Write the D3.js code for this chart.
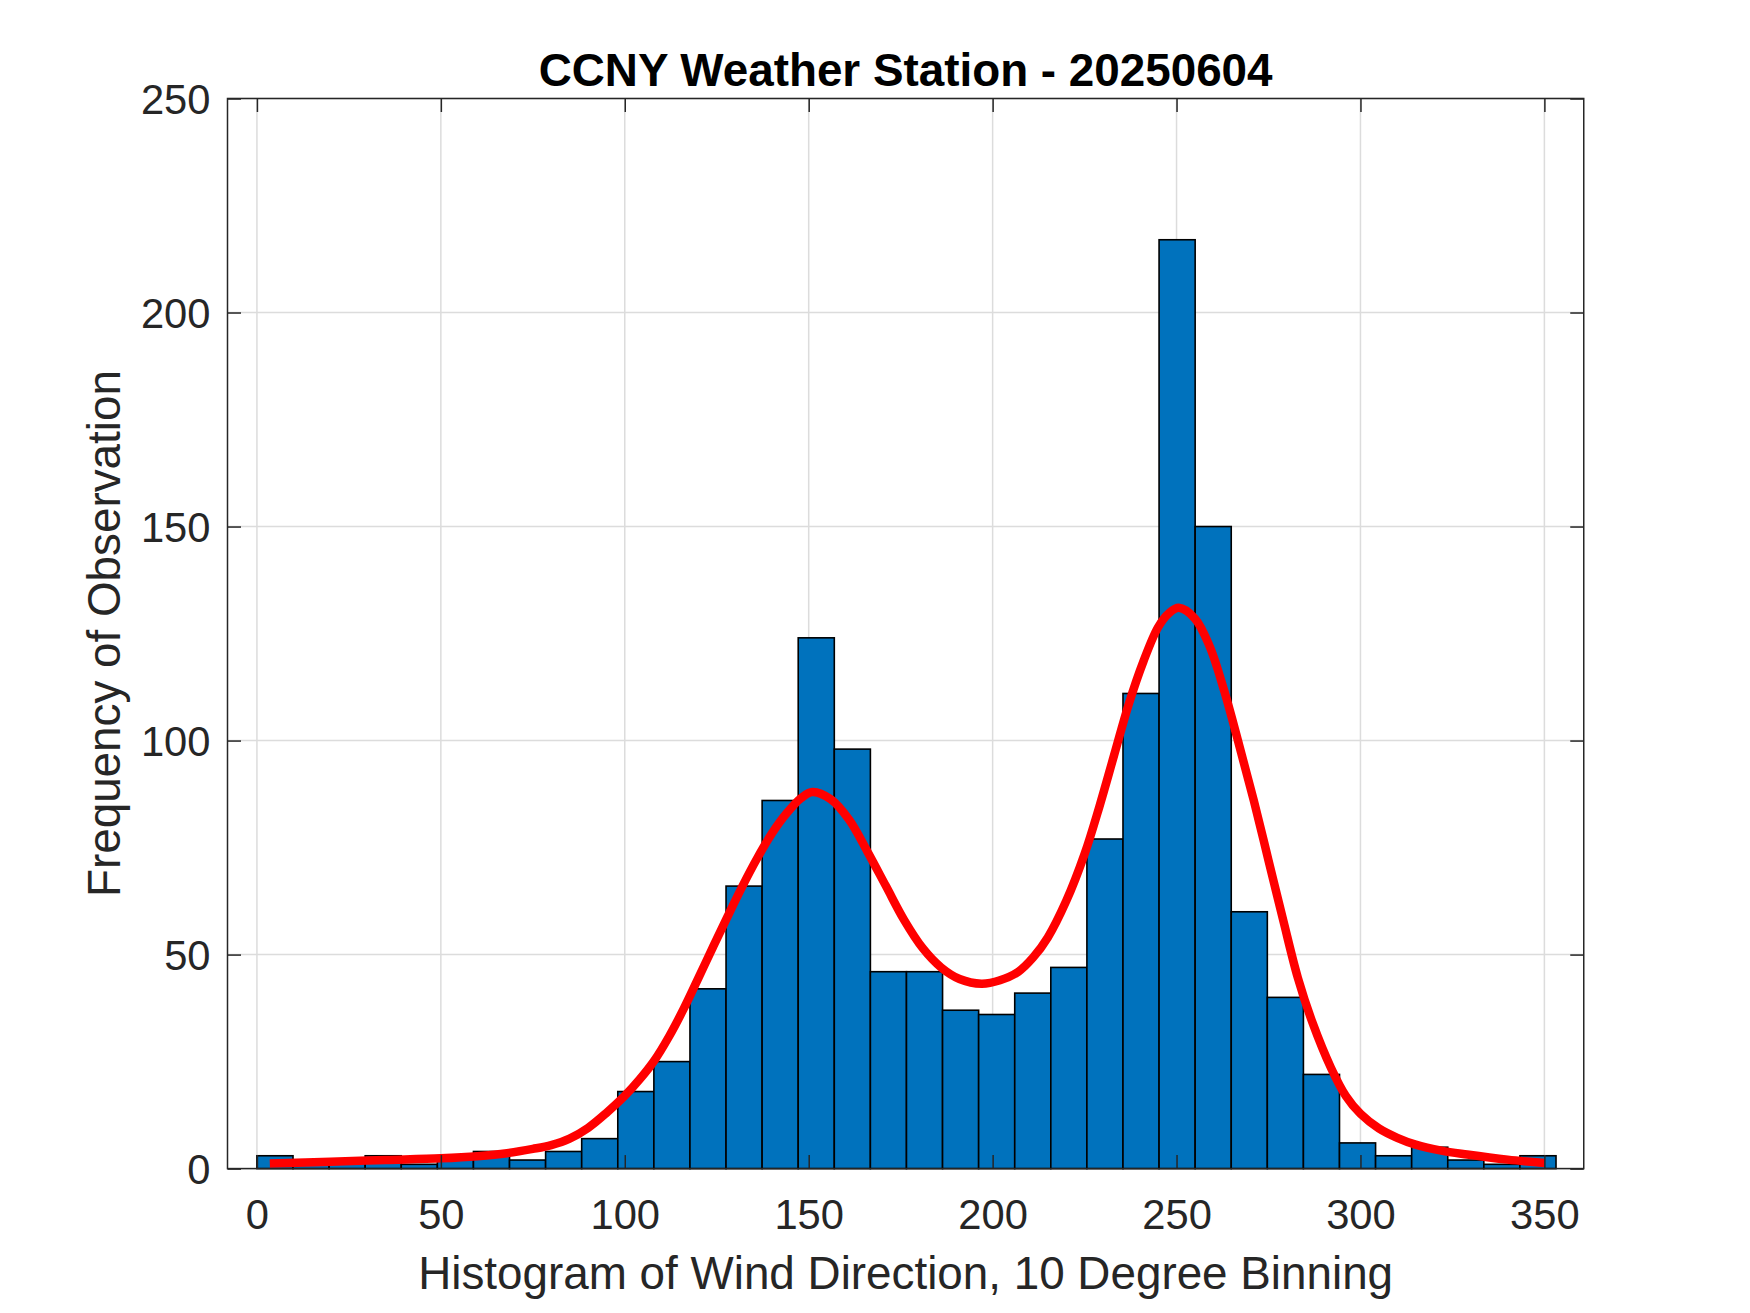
<!DOCTYPE html>
<html>
<head>
<meta charset="utf-8">
<script src="https://cdn.jsdelivr.net/npm/d3@7/dist/d3.min.js"></script>
<style>
  html, body { margin: 0; padding: 0; background: #ffffff; }
  svg { display: block; }
  text { font-family: "Liberation Sans", Arial, Helvetica, sans-serif; }
</style>
</head>
<body>
<svg id="chart" width="1750" height="1313"></svg>
<script>
// ---------------- data ----------------
const titleText = "CCNY Weather Station - 20250604";
const xLabelText = "Histogram of Wind Direction, 10 Degree Binning";
const yLabelText = "Frequency of Observation";

const binStart = 0;
const binWidth = 9.81;
const counts = [3, 1, 2, 3, 1, 3, 4, 2, 4, 7,
                18, 25, 42, 66, 86, 124, 98, 46, 46, 37,
                36, 41, 47, 77, 111, 217, 150, 60, 40, 22,
                6, 3, 5, 2, 1, 3];

// fitted distribution curve
const curveX = [3.5, 20, 35, 50, 60, 68, 75, 80, 85, 90,
                95, 100, 104, 108, 112, 116, 120, 124, 128, 132,
                136, 140, 144, 148, 151, 156, 161, 166, 171, 176,
                181, 186, 191, 197, 202, 207, 211, 215, 220, 225,
                229, 233, 237, 241, 245, 248, 250.6, 255, 259, 263,
                267, 271, 275, 279, 283, 287, 292, 296, 300, 305,
                310, 315, 322, 329, 340, 350];
const curveY = [1.2, 1.6, 2.0, 2.4, 2.9, 3.6, 4.6, 5.5, 7.0, 9.5,
                13.0, 17.0, 20.8, 25.2, 30.8, 37.3, 44.5, 51.8, 59, 66,
                72.5, 78.3, 83, 86.6, 88, 86.3, 81.5, 74, 66, 58,
                51.5, 47, 44.3, 43.2, 44.0, 46.0, 49.3, 54, 62.5, 73.5,
                84.5, 96.5, 108.5, 118.5, 126.5, 129.8, 131, 128.5, 122, 111.5,
                99, 86, 72, 58, 44.5, 34, 23.5, 17, 12.8, 9.4,
                7.2, 5.6, 4.2, 3.3, 2.1, 1.3];

const xTicks = [0, 50, 100, 150, 200, 250, 300, 350];
const yTicks = [0, 50, 100, 150, 200, 250];
const xDomain = [-8, 360.7];
const yDomain = [0, 250];

// ---------------- layout ----------------
const pLeft = 227.5, pRight = 1583.75, pTop = 98.5, pBottom = 1168.6;
const axisColor = "#262626";
const tickLen = 13.5;

const svg = d3.select("#chart");

const x = d3.scaleLinear().domain(xDomain).range([pLeft, pRight]);
const y = d3.scaleLinear().domain(yDomain).range([pBottom, pTop]);

// grid
const grid = svg.append("g");
grid.selectAll("line.gx").data(xTicks).join("line")
  .attr("class", "gx")
  .attr("x1", d => x(d)).attr("x2", d => x(d))
  .attr("y1", pTop).attr("y2", pBottom)
  .attr("stroke", "#dcdcdc").attr("stroke-width", 1.5);
grid.selectAll("line.gy").data(yTicks).join("line")
  .attr("class", "gy")
  .attr("y1", d => y(d)).attr("y2", d => y(d))
  .attr("x1", pLeft).attr("x2", pRight)
  .attr("stroke", "#dcdcdc").attr("stroke-width", 1.5);

// bars
const bins = counts.map((c, i) => ({ x0: binStart + i * binWidth, x1: binStart + (i + 1) * binWidth, c }));
svg.append("g").selectAll("rect").data(bins).join("rect")
  .attr("x", d => x(d.x0))
  .attr("width", d => x(d.x1) - x(d.x0))
  .attr("y", d => y(d.c))
  .attr("height", d => y(0) - y(d.c))
  .attr("fill", "#0072BD")
  .attr("stroke", "#000000")
  .attr("stroke-width", 1.6);

// fit curve
const pts = curveX.map((v, i) => [v, curveY[i]]);
svg.append("path")
  .datum(pts)
  .attr("fill", "none")
  .attr("stroke", "#ff0000")
  .attr("stroke-width", 8.5)
  .attr("stroke-linejoin", "round")
  .attr("d", d3.line().x(d => x(d[0])).y(d => y(d[1])).curve(d3.curveCatmullRom.alpha(0.5)));

// axes (inward ticks, box)
const fontTick = 41.7;
const axB = svg.append("g").attr("transform", `translate(0,${pBottom})`)
  .call(d3.axisBottom(x).tickValues(xTicks).tickSize(-tickLen).tickPadding(0).tickFormat(d3.format("d")));
const axT = svg.append("g").attr("transform", `translate(0,${pTop})`)
  .call(d3.axisTop(x).tickValues(xTicks).tickSize(-tickLen).tickFormat(""));
const axL = svg.append("g").attr("transform", `translate(${pLeft},0)`)
  .call(d3.axisLeft(y).tickValues(yTicks).tickSize(-tickLen).tickFormat(d3.format("d")));
const axR = svg.append("g").attr("transform", `translate(${pRight},0)`)
  .call(d3.axisRight(y).tickValues(yTicks).tickSize(-tickLen).tickFormat(""));

[axB, axT, axL, axR].forEach(g => {
  g.select(".domain").remove();
  g.selectAll(".tick line").attr("stroke", axisColor).attr("stroke-width", 1.5);
});
axB.selectAll(".tick text")
  .attr("dy", null)
  .attr("y", 1229 - pBottom)
  .attr("fill", axisColor)
  .style("font-size", fontTick + "px")
  .style("font-family", '"Liberation Sans", Arial, sans-serif');
axL.selectAll(".tick text")
  .attr("x", -17)
  .attr("dy", "0.36em")
  .attr("fill", axisColor)
  .style("font-size", fontTick + "px")
  .style("font-family", '"Liberation Sans", Arial, sans-serif');

// box
svg.append("rect")
  .attr("x", pLeft).attr("y", pTop)
  .attr("width", pRight - pLeft).attr("height", pBottom - pTop)
  .attr("fill", "none").attr("stroke", axisColor).attr("stroke-width", 1.5);

// title & labels
svg.append("text")
  .attr("x", (pLeft + pRight) / 2).attr("y", 86)
  .attr("text-anchor", "middle")
  .attr("font-weight", "bold")
  .attr("font-size", 45.8)
  .attr("fill", "#000000")
  .text(titleText);

svg.append("text")
  .attr("x", (pLeft + pRight) / 2).attr("y", 1289)
  .attr("text-anchor", "middle")
  .attr("font-size", 45.8)
  .attr("fill", axisColor)
  .text(xLabelText);

svg.append("text")
  .attr("transform", `translate(119.5,${(pTop + pBottom) / 2}) rotate(-90)`)
  .attr("text-anchor", "middle")
  .attr("font-size", 45.8)
  .attr("fill", axisColor)
  .text(yLabelText);
</script>
</body>
</html>
